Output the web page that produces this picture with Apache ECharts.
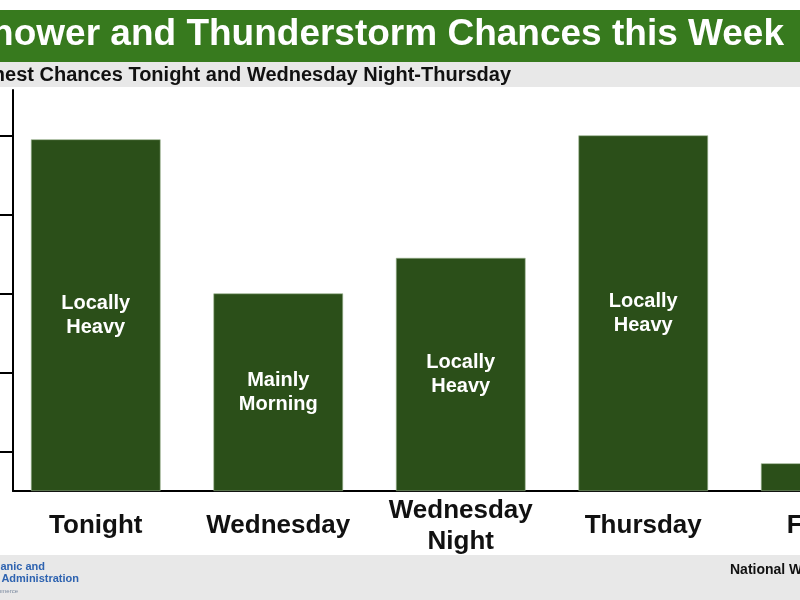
<!DOCTYPE html>
<html>
<head>
<meta charset="utf-8">
<script src="https://cdn.jsdelivr.net/npm/echarts@6/dist/echarts.min.js"></script>
<style>
html,body{margin:0;padding:0;background:#fff;}
#chart{width:800px;height:600px;}
</style>
</head>
<body>
<div id="chart"></div>
<script>
const categories = ['Tonight', 'Wednesday', 'Wednesday\nNight', 'Thursday', 'Friday'];
const chances = [89, 50, 59, 90, 7];
const notes = ['Locally\nHeavy', 'Mainly\nMorning', 'Locally\nHeavy', 'Locally\nHeavy', ''];
const tickValues = [10, 30, 50, 70, 90];
const titleText = 'Shower and Thunderstorm Chances this Week';
const subtitleText = 'Highest Chances Tonight and Wednesday Night-Thursday';

const FONT = '"Liberation Sans", Arial, sans-serif';
const chart = echarts.init(document.getElementById('chart'));
const yMax = 101.5;

chart.setOption({
  animation: false,
  backgroundColor: '#ffffff',
  grid: [
    { left: 4.5, width: 912.5, top: 90, bottom: 109, outerBoundsMode: 'none', containLabel: false },
    { left: 13, right: 0, top: 90, bottom: 109, outerBoundsMode: 'none', containLabel: false }
  ],
  xAxis: [
    {
      type: 'category', gridIndex: 0, data: categories,
      axisLine: { show: false }, axisTick: { show: false },
      axisLabel: {
        color: '#111', fontFamily: FONT, fontWeight: 'bold', fontSize: 26,
        lineHeight: 31, margin: 35, verticalAlign: 'middle', interval: 0
      }
    },
    {
      type: 'value', gridIndex: 1, min: 0, max: 1,
      axisLine: { show: true, lineStyle: { color: '#000', width: 2 } },
      axisTick: { show: false }, axisLabel: { show: false }, splitLine: { show: false }
    }
  ],
  yAxis: [
    { type: 'value', gridIndex: 0, min: 0, max: yMax, show: false, splitLine: { show: false } },
    {
      type: 'value', gridIndex: 1, min: 0, max: yMax,
      axisLine: { show: true, lineStyle: { color: '#000', width: 2 } },
      axisTick: { show: true, length: 14, inside: false, customValues: tickValues, lineStyle: { color: '#000', width: 2 } },
      axisLabel: { show: false }, splitLine: { show: false }
    }
  ],
  series: [{
    type: 'bar', xAxisIndex: 0, yAxisIndex: 0,
    data: chances,
    barCategoryGap: '29%',
    itemStyle: { color: '#2b4f19', borderColor: '#9bb38f', borderWidth: 0.6 },
    label: {
      show: true, position: 'inside',
      formatter: p => notes[p.dataIndex],
      color: '#fff', fontFamily: FONT, fontWeight: 'bold', fontSize: 20, lineHeight: 24
    }
  }],
  graphic: [
    { type: 'rect', shape: { x: 0, y: 10, width: 800, height: 52 }, style: { fill: '#377a1e' }, z: 10 },
    { type: 'rect', shape: { x: 0, y: 62, width: 800, height: 25 }, style: { fill: '#e8e8e8' }, z: 10 },
    { type: 'text', x: 784, y: 35, z: 11, style: { text: titleText, fill: '#fff', font: 'bold 37px ' + FONT, textAlign: 'right', textVerticalAlign: 'middle' } },
    { type: 'text', x: 511, y: 75, z: 11, style: { text: subtitleText, fill: '#111', font: 'bold 20px ' + FONT, textAlign: 'right', textVerticalAlign: 'middle' } },
    { type: 'rect', shape: { x: 0, y: 555, width: 800, height: 45 }, style: { fill: '#e8e8e8' }, z: 10 },
    { type: 'text', x: 45, y: 567, z: 11, style: { text: 'National Oceanic and', fill: '#2e63b0', font: 'bold 11px ' + FONT, textAlign: 'right', textVerticalAlign: 'middle' } },
    { type: 'text', x: 79, y: 579, z: 11, style: { text: 'Atmospheric Administration', fill: '#2e63b0', font: 'bold 11px ' + FONT, textAlign: 'right', textVerticalAlign: 'middle' } },
    { type: 'text', x: 18, y: 591, z: 11, style: { text: 'U.S. Department of Commerce', fill: '#7a8aa0', font: '6px ' + FONT, textAlign: 'right', textVerticalAlign: 'middle' } },
    { type: 'text', x: 730, y: 570, z: 11, style: { text: 'National Weather Service', fill: '#111', font: 'bold 14px ' + FONT, textAlign: 'left', textVerticalAlign: 'middle' } }
  ]
});
</script>
</body>
</html>
